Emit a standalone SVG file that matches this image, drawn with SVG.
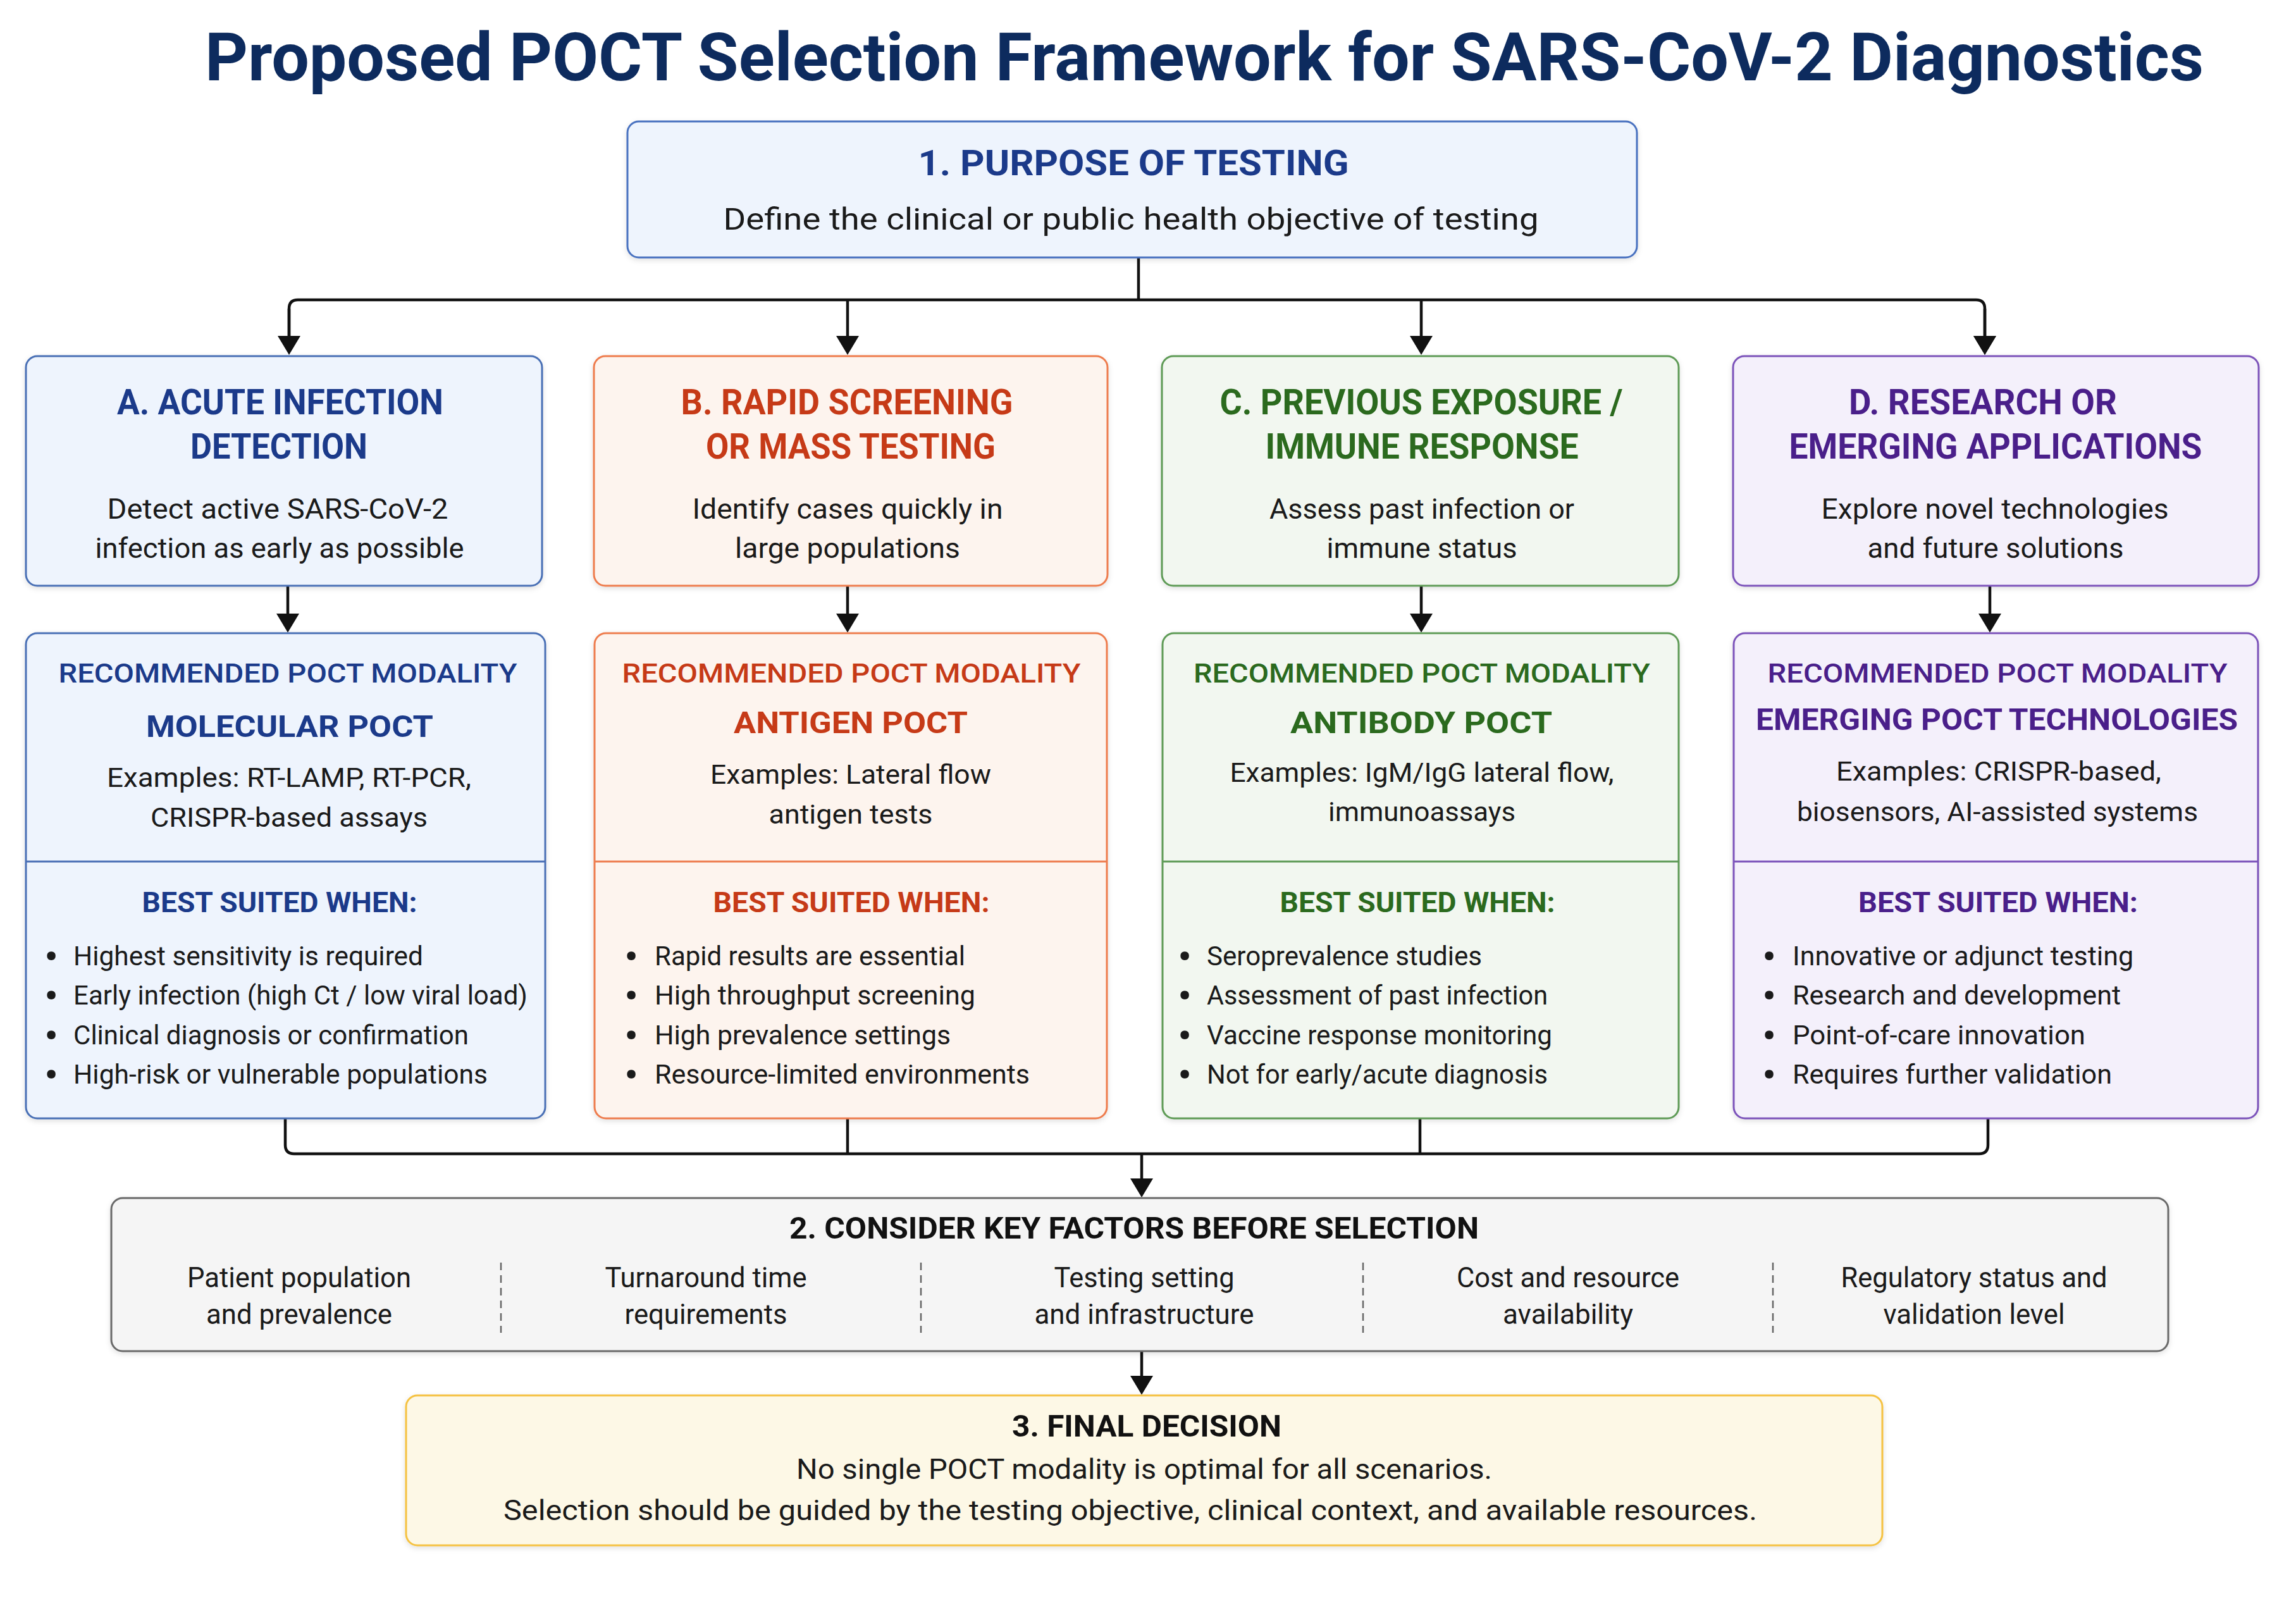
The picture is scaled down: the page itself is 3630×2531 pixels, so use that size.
<svg xmlns="http://www.w3.org/2000/svg" width="3630" height="2531" viewBox="0 0 3630 2531">
<defs>
<filter id="sh" x="-5%" y="-5%" width="110%" height="115%">
<feDropShadow dx="0" dy="3" stdDeviation="4" flood-color="#000" flood-opacity="0.12"/>
</filter>
<marker id="arr" viewBox="0 0 30 36" refX="16" refY="18" markerWidth="30" markerHeight="36" markerUnits="userSpaceOnUse" orient="auto">
<path d="M0,0 L30,18 L0,36 z" fill="#111"/>
</marker>
<style>
text{font-family:Roboto,"Liberation Sans",Arial,sans-serif;text-anchor:middle}
.t{font-weight:700;fill:#0d2b5e;font-size:106px}
.h{font-weight:700;font-size:55px}
.b{fill:#1a1a1a;font-size:45px}
.r{font-weight:500;font-size:42px}
.m{font-weight:700;font-size:49px}
.e{fill:#1a1a1a;font-size:42px}
.bw{font-weight:700;font-size:45px}
.li{fill:#1a1a1a;font-size:42px;text-anchor:start}
.dot{fill:#1a1a1a;font-size:58px;font-weight:700}
.blue{fill:#1b3a8a}.orange{fill:#c63a17}.green{fill:#2b6a1e}.purple{fill:#4a1f8a}
.bx{stroke-width:3}
.conn{fill:none;stroke:#111;stroke-width:4.5;stroke-linejoin:round}
.sep{stroke:#666;stroke-width:2.5;stroke-dasharray:12 8}
</style>
</defs>
<rect width="3630" height="2531" fill="#ffffff"/>

<text id="title" class="t" x="1904" y="127" textLength="3160" lengthAdjust="spacingAndGlyphs">Proposed POCT Selection Framework for SARS-CoV-2 Diagnostics</text>

<g id="connectors">
<path class="conn" d="M1800,407 V474"/>
<path class="conn" d="M457,547 V488 Q457,474 471,474 H3124 Q3138,474 3138,488 V547" marker-end="url(#arr)"/>
<path class="conn" d="M457,488 V547" marker-end="url(#arr)"/>
<path class="conn" d="M1340,474 V547" marker-end="url(#arr)"/>
<path class="conn" d="M2247,474 V547" marker-end="url(#arr)"/>
<path class="conn" d="M3138,488 V547" marker-end="url(#arr)"/>
<path class="conn" d="M455,926 V986" marker-end="url(#arr)"/>
<path class="conn" d="M1340,926 V986" marker-end="url(#arr)"/>
<path class="conn" d="M2247,926 V986" marker-end="url(#arr)"/>
<path class="conn" d="M3146,926 V986" marker-end="url(#arr)"/>
<path class="conn" d="M451,1768 V1810 Q451,1824 465,1824 H3129 Q3143,1824 3143,1810 V1768"/>
<path class="conn" d="M1340,1768 V1824"/>
<path class="conn" d="M2245,1768 V1824"/>
<path class="conn" d="M1805,1824 V1879" marker-end="url(#arr)"/>
<path class="conn" d="M1805,2136 V2191" marker-end="url(#arr)"/>
</g>

<g id="purpose">
<rect class="bx" x="992" y="192" width="1596" height="215" rx="18" fill="#eef4fd" stroke="#4a72c0" filter="url(#sh)"/>
<text class="h blue" x="1792" y="277" textLength="681" lengthAdjust="spacingAndGlyphs" style="font-size:56px">1. PURPOSE OF TESTING</text>
<text class="b" x="1788" y="363" textLength="1289" lengthAdjust="spacingAndGlyphs" style="font-size:49px">Define the clinical or public health objective of testing</text>
</g>

<g id="scenario-a">
<rect class="bx" x="41" y="563" width="816" height="363" rx="18" fill="#eef4fd" stroke="#4a6fb5" filter="url(#sh)"/>
<text class="h blue" x="443" y="655" textLength="516" lengthAdjust="spacingAndGlyphs">A. ACUTE INFECTION</text>
<text class="h blue" x="441" y="725" textLength="280" lengthAdjust="spacingAndGlyphs">DETECTION</text>
<text class="b" x="439" y="820" textLength="539" lengthAdjust="spacingAndGlyphs">Detect active SARS-CoV-2</text>
<text class="b" x="442" y="882" textLength="583" lengthAdjust="spacingAndGlyphs">infection as early as possible</text>
</g>

<g id="scenario-b">
<rect class="bx" x="939" y="563" width="812" height="363" rx="18" fill="#fdf4ee" stroke="#ee7c4e" filter="url(#sh)"/>
<text class="h orange" x="1339" y="655" textLength="525" lengthAdjust="spacingAndGlyphs">B. RAPID SCREENING</text>
<text class="h orange" x="1345" y="725" textLength="458" lengthAdjust="spacingAndGlyphs">OR MASS TESTING</text>
<text class="b" x="1340" y="820" textLength="491" lengthAdjust="spacingAndGlyphs">Identify cases quickly in</text>
<text class="b" x="1340" y="882" textLength="356" lengthAdjust="spacingAndGlyphs">large populations</text>
</g>

<g id="scenario-c">
<rect class="bx" x="1837" y="563" width="817" height="363" rx="18" fill="#f2f7f0" stroke="#5e9b57" filter="url(#sh)"/>
<text class="h green" x="2247" y="655" textLength="637" lengthAdjust="spacingAndGlyphs">C. PREVIOUS EXPOSURE /</text>
<text class="h green" x="2248" y="725" textLength="495" lengthAdjust="spacingAndGlyphs">IMMUNE RESPONSE</text>
<text class="b" x="2248" y="820" textLength="482" lengthAdjust="spacingAndGlyphs">Assess past infection or</text>
<text class="b" x="2248" y="882" textLength="301" lengthAdjust="spacingAndGlyphs">immune status</text>
</g>

<g id="scenario-d">
<rect class="bx" x="2740" y="563" width="831" height="363" rx="18" fill="#f4f0fb" stroke="#7b53ba" filter="url(#sh)"/>
<text class="h purple" x="3135" y="655" textLength="424" lengthAdjust="spacingAndGlyphs">D. RESEARCH OR</text>
<text class="h purple" x="3155" y="725" textLength="653" lengthAdjust="spacingAndGlyphs">EMERGING APPLICATIONS</text>
<text class="b" x="3154" y="820" textLength="549" lengthAdjust="spacingAndGlyphs">Explore novel technologies</text>
<text class="b" x="3155" y="882" textLength="405" lengthAdjust="spacingAndGlyphs">and future solutions</text>
</g>

<g id="modality-a">
<rect class="bx" x="41" y="1001" width="821" height="767" rx="18" fill="#eef4fd" stroke="#4a6fb5" filter="url(#sh)"/>
<line class="bx" x1="41" y1="1362" x2="862" y2="1362" stroke="#4a6fb5"/>
<text class="r blue" x="455" y="1079" textLength="725" lengthAdjust="spacingAndGlyphs">RECOMMENDED POCT MODALITY</text>
<text class="m blue" x="458" y="1165" textLength="454" lengthAdjust="spacingAndGlyphs">MOLECULAR POCT</text>
<text class="e" x="457" y="1244" textLength="576" lengthAdjust="spacingAndGlyphs">Examples: RT-LAMP, RT-PCR,</text>
<text class="e" x="457" y="1307" textLength="438" lengthAdjust="spacingAndGlyphs">CRISPR-based assays</text>
<text class="bw blue" x="442" y="1442" textLength="435" lengthAdjust="spacingAndGlyphs">BEST SUITED WHEN:</text>
<text class="dot" x="81" y="1532">•</text><text class="li" x="116" y="1526" textLength="553" lengthAdjust="spacingAndGlyphs">Highest sensitivity is required</text>
<text class="dot" x="81" y="1594">•</text><text class="li" x="116" y="1588" textLength="718" lengthAdjust="spacingAndGlyphs">Early infection (high Ct / low viral load)</text>
<text class="dot" x="81" y="1657">•</text><text class="li" x="116" y="1651" textLength="625" lengthAdjust="spacingAndGlyphs">Clinical diagnosis or confirmation</text>
<text class="dot" x="81" y="1719">•</text><text class="li" x="116" y="1713" textLength="655" lengthAdjust="spacingAndGlyphs">High-risk or vulnerable populations</text>
</g>

<g id="modality-b">
<rect class="bx" x="940" y="1001" width="810" height="767" rx="18" fill="#fdf4ee" stroke="#ee7c4e" filter="url(#sh)"/>
<line class="bx" x1="940" y1="1362" x2="1750" y2="1362" stroke="#ee7c4e"/>
<text class="r orange" x="1346" y="1079" textLength="725" lengthAdjust="spacingAndGlyphs">RECOMMENDED POCT MODALITY</text>
<text class="m orange" x="1345" y="1159" textLength="370" lengthAdjust="spacingAndGlyphs">ANTIGEN POCT</text>
<text class="e" x="1345" y="1239" textLength="444" lengthAdjust="spacingAndGlyphs">Examples: Lateral flow</text>
<text class="e" x="1345" y="1302" textLength="259" lengthAdjust="spacingAndGlyphs">antigen tests</text>
<text class="bw orange" x="1346" y="1442" textLength="437" lengthAdjust="spacingAndGlyphs">BEST SUITED WHEN:</text>
<text class="dot" x="998" y="1532">•</text><text class="li" x="1035" y="1526" textLength="491" lengthAdjust="spacingAndGlyphs">Rapid results are essential</text>
<text class="dot" x="998" y="1594">•</text><text class="li" x="1035" y="1588" textLength="507" lengthAdjust="spacingAndGlyphs">High throughput screening</text>
<text class="dot" x="998" y="1657">•</text><text class="li" x="1035" y="1651" textLength="468" lengthAdjust="spacingAndGlyphs">High prevalence settings</text>
<text class="dot" x="998" y="1719">•</text><text class="li" x="1035" y="1713" textLength="593" lengthAdjust="spacingAndGlyphs">Resource-limited environments</text>
</g>

<g id="modality-c">
<rect class="bx" x="1838" y="1001" width="816" height="767" rx="18" fill="#f2f7f0" stroke="#5e9b57" filter="url(#sh)"/>
<line class="bx" x1="1838" y1="1362" x2="2654" y2="1362" stroke="#5e9b57"/>
<text class="r green" x="2248" y="1079" textLength="722" lengthAdjust="spacingAndGlyphs">RECOMMENDED POCT MODALITY</text>
<text class="m green" x="2247" y="1159" textLength="414" lengthAdjust="spacingAndGlyphs">ANTIBODY POCT</text>
<text class="e" x="2248" y="1236" textLength="607" lengthAdjust="spacingAndGlyphs">Examples: IgM/IgG lateral flow,</text>
<text class="e" x="2248" y="1298" textLength="296" lengthAdjust="spacingAndGlyphs">immunoassays</text>
<text class="bw green" x="2241" y="1442" textLength="435" lengthAdjust="spacingAndGlyphs">BEST SUITED WHEN:</text>
<text class="dot" x="1873" y="1532">•</text><text class="li" x="1908" y="1526" textLength="435" lengthAdjust="spacingAndGlyphs">Seroprevalence studies</text>
<text class="dot" x="1873" y="1594">•</text><text class="li" x="1908" y="1588" textLength="539" lengthAdjust="spacingAndGlyphs">Assessment of past infection</text>
<text class="dot" x="1873" y="1657">•</text><text class="li" x="1908" y="1651" textLength="546" lengthAdjust="spacingAndGlyphs">Vaccine response monitoring</text>
<text class="dot" x="1873" y="1719">•</text><text class="li" x="1908" y="1713" textLength="539" lengthAdjust="spacingAndGlyphs">Not for early/acute diagnosis</text>
</g>

<g id="modality-d">
<rect class="bx" x="2741" y="1001" width="829" height="767" rx="18" fill="#f4f0fb" stroke="#7b53ba" filter="url(#sh)"/>
<line class="bx" x1="2741" y1="1362" x2="3570" y2="1362" stroke="#7b53ba"/>
<text class="r purple" x="3158" y="1079" textLength="727" lengthAdjust="spacingAndGlyphs">RECOMMENDED POCT MODALITY</text>
<text class="m purple" x="3157" y="1154" textLength="762" lengthAdjust="spacingAndGlyphs">EMERGING POCT TECHNOLOGIES</text>
<text class="e" x="3160" y="1234" textLength="514" lengthAdjust="spacingAndGlyphs">Examples: CRISPR-based,</text>
<text class="e" x="3158" y="1298" textLength="634" lengthAdjust="spacingAndGlyphs">biosensors, AI-assisted systems</text>
<text class="bw purple" x="3159" y="1442" textLength="442" lengthAdjust="spacingAndGlyphs">BEST SUITED WHEN:</text>
<text class="dot" x="2797" y="1532">•</text><text class="li" x="2834" y="1526" textLength="539" lengthAdjust="spacingAndGlyphs">Innovative or adjunct testing</text>
<text class="dot" x="2797" y="1594">•</text><text class="li" x="2834" y="1588" textLength="519" lengthAdjust="spacingAndGlyphs">Research and development</text>
<text class="dot" x="2797" y="1657">•</text><text class="li" x="2834" y="1651" textLength="463" lengthAdjust="spacingAndGlyphs">Point-of-care innovation</text>
<text class="dot" x="2797" y="1719">•</text><text class="li" x="2834" y="1713" textLength="505" lengthAdjust="spacingAndGlyphs">Requires further validation</text>
</g>

<g id="key-factors">
<rect class="bx" x="176" y="1894" width="3252" height="242" rx="18" fill="#f5f5f5" stroke="#6a6a6a" filter="url(#sh)"/>
<text class="bw" x="1793" y="1958" fill="#111" textLength="1090" lengthAdjust="spacingAndGlyphs" style="font-size:48px">2. CONSIDER KEY FACTORS BEFORE SELECTION</text>
<line class="sep" x1="792" y1="1996" x2="792" y2="2107"/>
<line class="sep" x1="1456" y1="1996" x2="1456" y2="2107"/>
<line class="sep" x1="2155" y1="1996" x2="2155" y2="2107"/>
<line class="sep" x1="2803" y1="1996" x2="2803" y2="2107"/>
<text class="e" x="473" y="2035" textLength="354" lengthAdjust="spacingAndGlyphs" style="font-size:44px">Patient population</text>
<text class="e" x="473" y="2093" textLength="294" lengthAdjust="spacingAndGlyphs" style="font-size:44px">and prevalence</text>
<text class="e" x="1116" y="2035" textLength="319" lengthAdjust="spacingAndGlyphs" style="font-size:44px">Turnaround time</text>
<text class="e" x="1116" y="2093" textLength="257" lengthAdjust="spacingAndGlyphs" style="font-size:44px">requirements</text>
<text class="e" x="1809" y="2035" textLength="285" lengthAdjust="spacingAndGlyphs" style="font-size:44px">Testing setting</text>
<text class="e" x="1809" y="2093" textLength="347" lengthAdjust="spacingAndGlyphs" style="font-size:44px">and infrastructure</text>
<text class="e" x="2479" y="2035" textLength="352" lengthAdjust="spacingAndGlyphs" style="font-size:44px">Cost and resource</text>
<text class="e" x="2479" y="2093" textLength="206" lengthAdjust="spacingAndGlyphs" style="font-size:44px">availability</text>
<text class="e" x="3121" y="2035" textLength="421" lengthAdjust="spacingAndGlyphs" style="font-size:44px">Regulatory status and</text>
<text class="e" x="3121" y="2093" textLength="287" lengthAdjust="spacingAndGlyphs" style="font-size:44px">validation level</text>
</g>

<g id="final-decision">
<rect class="bx" x="642" y="2206" width="2334" height="237" rx="18" fill="#fdf8e6" stroke="#f5c242" filter="url(#sh)"/>
<text class="bw" x="1813" y="2271" fill="#111" textLength="426" lengthAdjust="spacingAndGlyphs" style="font-size:48px">3. FINAL DECISION</text>
<text class="e" x="1809" y="2338" textLength="1100" lengthAdjust="spacingAndGlyphs" style="font-size:45px">No single POCT modality is optimal for all scenarios.</text>
<text class="e" x="1787" y="2403" textLength="1982" lengthAdjust="spacingAndGlyphs" style="font-size:45px">Selection should be guided by the testing objective, clinical context, and available resources.</text>
</g>
</svg>
